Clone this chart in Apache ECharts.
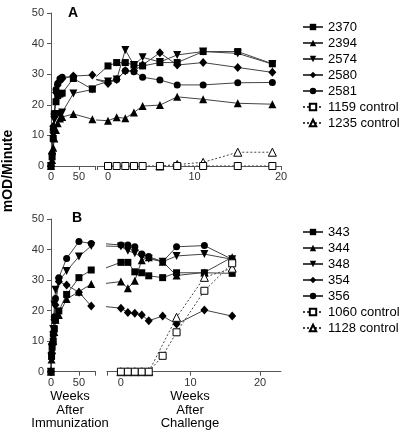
<!DOCTYPE html>
<html><head><meta charset="utf-8">
<script src="https://cdn.jsdelivr.net/npm/echarts@6/dist/echarts.min.js"></script>
<style>html,body{margin:0;padding:0;background:#fff}#c{width:400px;height:439px}</style>
</head><body><div id="c"></div>
<script>
// ---------- texts / ticks ----------
const panelLabels = ['A', 'B'];
const yTitle = 'mOD/Minute';
const xTitleImm = 'Weeks\nAfter\nImmunization';
const xTitleChal = 'Weeks\nAfter\nChallenge';
const yTickValues = [0, 10, 20, 30, 40, 50];
const immTickLabels = [0, 50];
const chalTickLabels = [0, 10, 20];

// ---------- panel A data ----------
const namesA = ['2370', '2394', '2574', '2580', '2581', '1159 control', '1235 control'];
const weeksImmA = [0, 2, 4, 6, 9, 12, 16, 20, 40, 74];
const immA_2370 = [0, 3, 9, 17, 21, 23, 23.5, 23.8, 28.6, 25.1];
const immA_2394 = [0, 2, 6, 9, 11.8, 14, 15.5, 16, 17.0, 15.3];
const immA_2574 = [0, 3, 10, 15, 17, 17, 17, 17.5, 23.7, 25.0];
const immA_2580 = [0, 4, 13, 17, 24, 26.5, 27.9, 28.5, 29.4, 29.7];
const immA_2581 = [0, 4, 12, 17, 25, 27, 28.5, 29, 29.2, null];
const weeksChalA = [0, 1, 2, 3, 4, 6, 8, 11, 15, 19];
const chalA_2370 = [32.7, 33.8, 33.8, 33.0, 32.7, 33.8, 33.8, 37.4, 37.4, 33.4];
const chalA_2394 = [14.8, 15.9, 15.6, 17.5, 19.6, 19.9, 22.6, 21.8, 20.5, 20.2];
const chalA_2574 = [27.6, 28.3, 37.9, 33.0, 35.5, 34.0, 36.3, 37.4, 36.8, 33.3];
const chalA_2580 = [27.0, 28.3, 31.1, 31.1, 33.0, 37.0, 33.0, 33.8, 32.2, 30.6];
const chalA_2581 = [27.6, 28.3, 31.1, 30.8, 29.0, 28.1, 26.5, 26.5, 27.2, 27.3];
const chalA_1159 = [0, 0, 0, 0, 0, 0, 0, 0, 0, 0];
const chalA_1235 = [null, null, null, null, null, 0, 0.5, 1.2, 4.5, 4.5];

// ---------- panel B data ----------
const namesB = ['343', '344', '348', '354', '356', '1060 control', '1128 control'];
const weeksImmB = [0, 1, 2, 4, 6, 8, 14, 28, 50, 72];
const immB_343 = [0, 5, 8, 10, 14, 16.9, 19.9, 25.3, 30.8, 33.3];
const immB_344 = [0, 4, 7, 10, 13, 17, 18.6, 23.8, 26.2, 28.7];
const immB_348 = [0, 5, 8, 14, 22, 26.8, 29.5, 33.0, 37.7, 41.2];
const immB_354 = [0, 6, 9, 13, 17, 21.8, 29.5, 28.4, 26.0, 21.5];
const immB_356 = [0, 6, 9, 12, 18, 24, 30.8, 37.1, 42.6, 42.0];
const weeksChalB = [0, 1, 2, 3, 4, 6, 8, 12, 16];
const chalB_343 = [35.8, 35.8, 32.7, 32.4, 31.4, 30.8, 32.4, 32.4, 32.2];
const chalB_344 = [29.5, 27.3, 29.8, 36.5, 37.5, 36.0, 31.5, 32.5, 37.5];
const chalB_348 = [41.0, 39.6, 38.8, 37.5, 37.0, 36.0, 37.9, 38.5, 36.8];
const chalB_354 = [20.8, 19.4, 19.1, 18.6, 16.7, 18.2, 15.6, 20.2, 18.2];
const chalB_356 = [41.5, 41.5, 40.9, 38.5, 37.7, 36.0, 40.9, 41.3, 36.8];
const chalB_1060 = [0, 0, 0, 0, 0, 5.2, 12.9, 26.5, 35.5];
const chalB_1128 = [0, 0, 0, 0, 0, null, 17.8, 30.9, 33.9];

// ---------- styling ----------
const FONT = '"Liberation Sans", Arial, Helvetica, sans-serif';
const LINE = '#444';
const AXIS = '#555';
const PRE_WEEK = -3; // carries the last immunization value into the clipped challenge axis
const markers = [
  {symbol: 'rect', size: 7, fill: '#000'},
  {symbol: 'triangle', size: 8, fill: '#000'},
  {symbol: 'triangle', size: 8, fill: '#000', rotate: 180},
  {symbol: 'diamond', size: [8, 9], fill: '#000'},
  {symbol: 'circle', size: 7, fill: '#000'},
  {symbol: 'rect', size: 7, fill: '#fff', dashed: true, z: 4},
  {symbol: 'triangle', size: 8, fill: '#fff', dashed: true}
];

function mk(name, m, axis, xs, ys, pre) {
  const data = [];
  if (pre != null) data.push({value: [PRE_WEEK, pre], symbol: 'none'});
  xs.forEach((x, i) => { if (ys[i] != null) data.push([x, ys[i]]); });
  return {
    type: 'line', name, xAxisIndex: axis, yAxisIndex: axis, data,
    symbol: m.symbol, symbolSize: m.size, symbolRotate: m.rotate || 0,
    connectNulls: true, clip: true, animation: false, z: m.z || 2,
    itemStyle: {color: m.fill, borderColor: '#000', borderWidth: m.fill === '#fff' ? 1 : 0},
    lineStyle: {color: LINE, width: 1, type: m.dashed ? [2, 2] : 'solid'},
    emphasis: {disabled: true}
  };
}
const lastVal = arr => { for (let i = arr.length - 1; i >= 0; i--) if (arr[i] != null) return arr[i]; return null; };

const immA = [immA_2370, immA_2394, immA_2574, immA_2580, immA_2581];
const chalA = [chalA_2370, chalA_2394, chalA_2574, chalA_2580, chalA_2581, chalA_1159, chalA_1235];
const immB = [immB_343, immB_344, immB_348, immB_354, immB_356];
const chalB = [chalB_343, chalB_344, chalB_348, chalB_354, chalB_356, chalB_1060, chalB_1128];

const series = [];
immA.forEach((ys, i) => series.push(mk(namesA[i], markers[i], 0, weeksImmA, ys, null)));
chalA.forEach((ys, i) => series.push(mk(namesA[i], markers[i], 1, weeksChalA, ys, i < 5 ? lastVal(immA[i]) : null)));
immB.forEach((ys, i) => series.push(mk(namesB[i], markers[i], 2, weeksImmB, ys, null)));
chalB.forEach((ys, i) => series.push(mk(namesB[i], markers[i], 3, weeksChalB, ys, i < 5 ? lastVal(immB[i]) : null)));

const labelStyle = {color: '#333', fontSize: 11, fontFamily: FONT};
function xAx(grid, min, max, ticks, labels, margin) {
  return {
    type: 'value', gridIndex: grid, min, max,
    axisLine: {show: true, lineStyle: {color: AXIS, width: 1}},
    axisTick: {show: true, length: 4, lineStyle: {color: AXIS}, customValues: ticks},
    axisLabel: Object.assign({margin, customValues: labels}, labelStyle),
    splitLine: {show: false}
  };
}
function yAx(grid, show) {
  return {
    type: 'value', gridIndex: grid, min: 0, max: 50, interval: 10, show,
    axisLine: {show: true, lineStyle: {color: AXIS, width: 1}},
    axisTick: {show: true, length: 4, lineStyle: {color: AXIS}},
    axisLabel: Object.assign({margin: 7}, labelStyle),
    splitLine: {show: false}
  };
}

const option = {
  backgroundColor: '#fff',
  animation: false,
  grid: [
    {left: 51, top: 13, width: 44.7, height: 153},
    {left: 97.2, top: 13, width: 183.8, height: 153},
    {left: 51, top: 219, width: 44.7, height: 152.7},
    {left: 107, top: 219, width: 173.9, height: 152.7}
  ],
  xAxis: [
    xAx(0, 0, 80, [0, 50, 80], immTickLabels, 5),
    xAx(1, -1.25, 20, [-1.25, 0, 10, 20], chalTickLabels, 5),
    xAx(2, 0, 80, [0, 50, 80], immTickLabels, 6),
    xAx(3, -2, 23, [-2, 0, 10, 20], chalTickLabels, 6)
  ],
  yAxis: [yAx(0, true), yAx(1, false), yAx(2, true), yAx(3, false)],
  legend: [
    {data: namesA, orient: 'vertical', left: 297, top: 15, itemWidth: 20, itemHeight: 8, itemGap: 2,
     selectedMode: false, textStyle: {fontSize: 13, lineHeight: 14, color: '#000', fontFamily: FONT}},
    {data: namesB, orient: 'vertical', left: 297, top: 220, itemWidth: 20, itemHeight: 8, itemGap: 2,
     selectedMode: false, textStyle: {fontSize: 13, lineHeight: 14, color: '#000', fontFamily: FONT}}
  ],
  graphic: [
    {type: 'text', x: 73, y: 13, style: {text: panelLabels[0], font: 'bold 14px ' + FONT, fill: '#000', align: 'center', verticalAlign: 'middle'}},
    {type: 'text', x: 77, y: 218, style: {text: panelLabels[1], font: 'bold 14px ' + FONT, fill: '#000', align: 'center', verticalAlign: 'middle'}},
    {type: 'text', x: 8, y: 171, rotation: Math.PI / 2, style: {text: yTitle, font: 'bold 14px ' + FONT, fill: '#000', align: 'center', verticalAlign: 'middle'}},
    {type: 'text', x: 70, y: 410.3, style: {text: xTitleImm, font: '13px ' + FONT, lineHeight: 13.5, fill: '#000', align: 'center', verticalAlign: 'middle'}},
    {type: 'text', x: 190, y: 410.3, style: {text: xTitleChal, font: '13px ' + FONT, lineHeight: 13.5, fill: '#000', align: 'center', verticalAlign: 'middle'}}
  ],
  series
};
const chart = echarts.init(document.getElementById('c'), null, {renderer: 'canvas'});
chart.setOption(option);
</script>
</body></html>
